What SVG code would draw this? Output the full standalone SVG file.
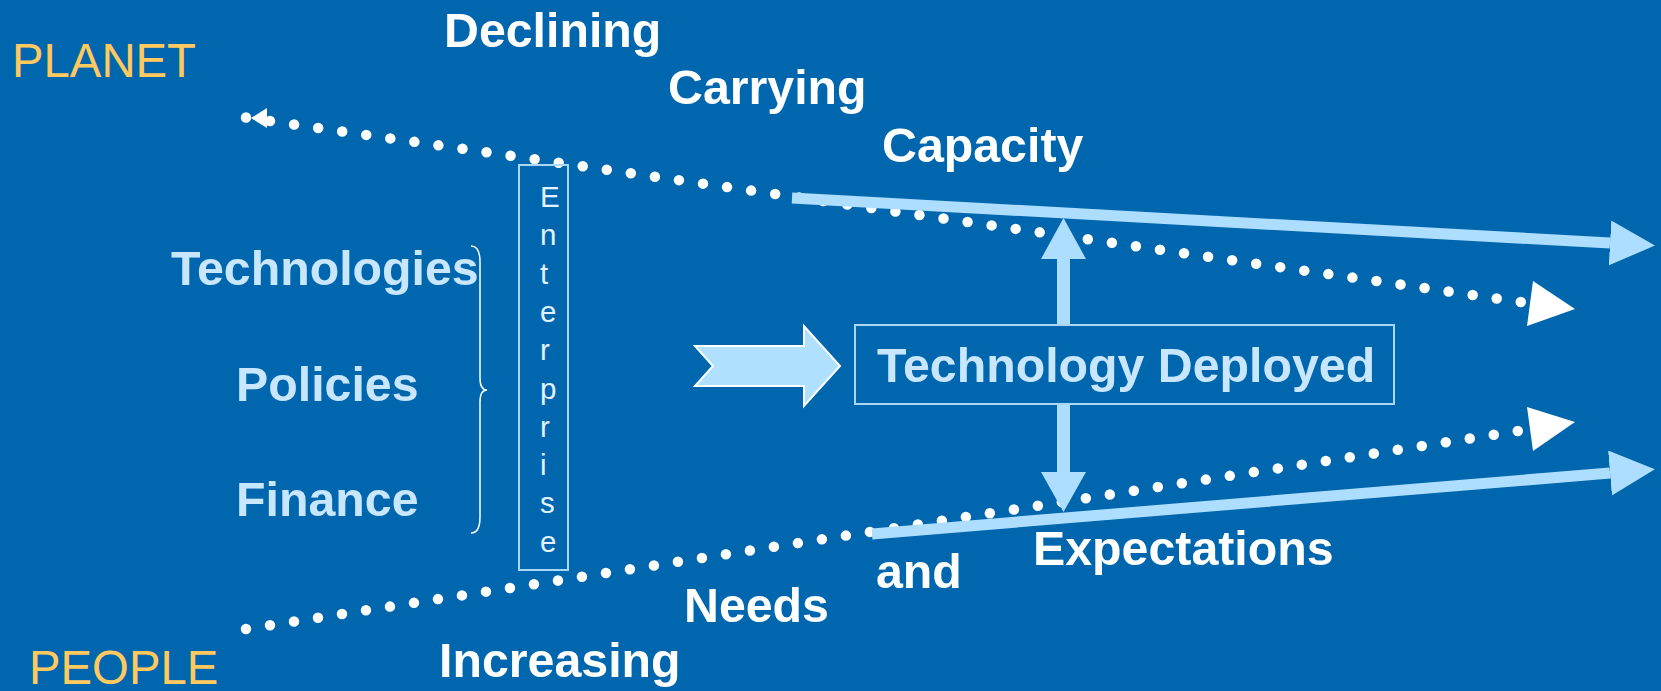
<svg xmlns="http://www.w3.org/2000/svg" width="1661" height="691" viewBox="0 0 1661 691">
<defs>
<style>
.bg{fill:#0067AF}
.t{font-family:"Liberation Sans",Arial,sans-serif;font-weight:bold;font-size:48.3px}
.w{fill:#FFFFFF}
.lb{fill:#C8E7FF}
.y{font-family:"Liberation Sans",Arial,sans-serif;font-size:47.3px;fill:#FFC95E}
.ent{font-family:"Liberation Sans",Arial,sans-serif;font-size:29.5px;fill:#E2F2FF}
.dots{fill:none;stroke:#FFFFFF;stroke-width:10.5;stroke-linecap:round;stroke-dasharray:0 1}
.solid{fill:none;stroke:#ADDEFF;stroke-width:11}
.ab{fill:#ADDEFF}
.wt{fill:#FFFFFF}
</style>
<marker id="head" markerUnits="userSpaceOnUse" markerWidth="46" markerHeight="46" refX="0" refY="22.5" orient="auto" viewBox="0 0 46 46">
<path d="M0,0 L45,22.5 L0,45 z" fill="#ADDEFF"/>
</marker>
</defs>
<rect class="bg" x="0" y="0" width="1661" height="691"/>

<g id="connectors">
<path class="dots" pathLength="53.01" d="M246,117.5 L1521,302"/>
<path class="dots" pathLength="53.01" d="M246,629 L1518,431"/>
<polygon class="wt" points="251,118 267,108 267,128"/>
<polygon class="wt" points="1533,281 1575,309 1527,326"/>
<polygon class="wt" points="1527,407 1575,422 1533,451"/>
<path class="solid" d="M792,198 L1610,243" marker-end="url(#head)"/>
<path class="solid" d="M872,534 L1610,473" marker-end="url(#head)"/>
<g id="up-arrow">
<rect class="ab" x="1057" y="257" width="13" height="68"/>
<polygon class="ab" points="1063.5,218 1086,259 1041,259"/>
</g>
<g id="down-arrow">
<rect class="ab" x="1057" y="405" width="13" height="69"/>
<polygon class="ab" points="1041,472 1086,472 1063.5,512"/>
</g>
<polygon id="block-arrow" points="695,346 804,346 804,326 840,366 804,406 804,386 695,386 713,366" fill="#B0E0FF" stroke="#FFFFFF" stroke-width="2" stroke-linejoin="miter"/>
</g>

<g id="planet"><text class="y" x="12" y="77">PLANET</text></g>
<g id="people"><text class="y" x="29" y="684">PEOPLE</text></g>

<g id="declining"><text class="t w" x="444" y="47">Declining</text></g>
<g id="carrying"><text class="t w" x="668" y="104">Carrying</text></g>
<g id="capacity"><text class="t w" x="882" y="162">Capacity</text></g>

<g id="technologies"><text class="t lb" x="171" y="285">Technologies</text></g>
<g id="policies"><text class="t lb" x="236" y="401">Policies</text></g>
<g id="finance"><text class="t lb" x="236" y="516">Finance</text></g>

<g id="brace"><path d="M471,246 C477,246 480,251 480,262 L480,378 C480,386 482,390 487,390 C482,390 480,394 480,402 L480,517 C480,528 477,533 471,533" fill="none" stroke="#FFFFFF" stroke-width="1.5"/></g>

<g id="enterprise">
<rect x="519" y="165" width="49" height="405" fill="none" stroke="#A8D8F5" stroke-width="2"/>
<text class="ent" x="540" y="207">E</text>
<text class="ent" x="540" y="245.3">n</text>
<text class="ent" x="540" y="283.6">t</text>
<text class="ent" x="540" y="321.9">e</text>
<text class="ent" x="540" y="360.2">r</text>
<text class="ent" x="540" y="398.5">p</text>
<text class="ent" x="540" y="436.8">r</text>
<text class="ent" x="540" y="475.1">i</text>
<text class="ent" x="540" y="513.4">s</text>
<text class="ent" x="540" y="551.7">e</text>
</g>

<g id="technology-deployed">
<rect x="855" y="325" width="539" height="79" fill="none" stroke="#A8D8F5" stroke-width="2"/>
<text class="t lb" x="877" y="382">Technology Deployed</text>
</g>

<g id="expectations"><text class="t w" x="1033" y="565">Expectations</text></g>
<g id="and"><text class="t w" x="876" y="588">and</text></g>
<g id="needs"><text class="t w" x="684" y="622">Needs</text></g>
<g id="increasing"><text class="t w" x="439" y="677">Increasing</text></g>
</svg>
